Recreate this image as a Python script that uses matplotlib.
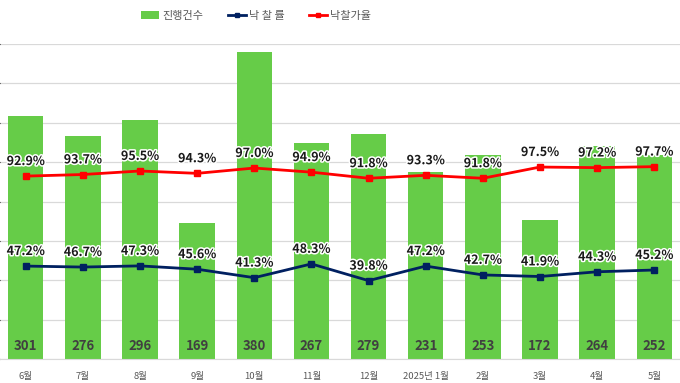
import matplotlib
matplotlib.use("Agg")
import matplotlib.pyplot as plt
import matplotlib.patheffects as pe
from matplotlib.lines import Line2D
from matplotlib.patches import Patch
import numpy as np

plt.rcParams['font.family'] = ['Noto Sans CJK KR', 'DejaVu Sans']

months = ['6월', '7월', '8월', '9월', '10월', '11월', '12월', '2025년 1월', '2월', '3월', '4월', '5월']
counts = [301, 276, 296, 169, 380, 267, 279, 231, 253, 172, 264, 252]
win_rate = [47.2, 46.7, 47.3, 45.6, 41.3, 48.3, 39.8, 47.2, 42.7, 41.9, 44.3, 45.2]
price_rate = [92.9, 93.7, 95.5, 94.3, 97.0, 94.9, 91.8, 93.3, 91.8, 97.5, 97.2, 97.7]

bar_color = '#66CC48'
navy = '#002060'
red = '#FF0000'

fig = plt.figure(figsize=(6.8, 3.83), dpi=100)
ax = fig.add_axes([0.0, 24/383, 1.0, 315/383])
x = np.arange(len(months))

ax.bar(x, counts, width=0.62, color=bar_color, zorder=2)
ax.set_xlim(-0.45, len(months) - 0.55)
ax.set_ylim(0, 390)
ax.set_yticks(np.linspace(0, 390, 9))
ax.yaxis.grid(True, color='#D9D9D9', linewidth=0.9, zorder=0)
ax.set_axisbelow(True)
ax.tick_params(axis='y', left=False, labelleft=False)
for s in ['top', 'left', 'right']:
    ax.spines[s].set_visible(False)
ax.spines['bottom'].set_color('#D9D9D9')
ax.set_xticks(x)
ax.set_xticklabels(months, fontsize=6.8, color='#595959')
ax.tick_params(axis='x', length=0, pad=9)

for xi, c in zip(x, counts):
    ax.text(xi, 0.041, str(c), transform=ax.get_xaxis_transform(),
            ha='center', va='center', fontsize=9.5, fontweight='bold', color='#404040', zorder=5)

ax2 = ax.twinx()
ax2.set_ylim(0, 160)
ax2.axis('off')
ax2.set_xlim(ax.get_xlim())

ax2.plot(x, price_rate, color=red, linewidth=2, marker='s', markersize=4, zorder=4)
ax2.plot(x, win_rate, color=navy, linewidth=2, marker='s', markersize=4, zorder=4)

glow = [pe.withStroke(linewidth=2.2, foreground='white')]
for xi, v in zip(x, price_rate):
    ax2.annotate(f'{v:.1f}%', (xi, v), xytext=(0, 10.5), textcoords='offset points',
                 ha='center', va='center', fontsize=9, fontweight='bold', color='#1A1A1A',
                 path_effects=glow, zorder=6)
for xi, v in zip(x, win_rate):
    ax2.annotate(f'{v:.1f}%', (xi, v), xytext=(0, 10.5), textcoords='offset points',
                 ha='center', va='center', fontsize=9, fontweight='bold', color='#1A1A1A',
                 path_effects=glow, zorder=6)

handles = [Patch(facecolor=bar_color, edgecolor='none'),
           Line2D([], [], color=navy, linewidth=2, marker='s', markersize=3.5),
           Line2D([], [], color=red, linewidth=2, marker='s', markersize=3.5)]
labels = ['진행건수', '낙 찰 률', '낙찰가율']
fig.legend(handles, labels, loc='center', bbox_to_anchor=(0.377, 1 - 16/383), ncol=3,
           frameon=False, fontsize=8, labelcolor='#595959', handlelength=1.6,
           handleheight=0.8, handletextpad=0.3, columnspacing=2.2)

fig.savefig('out.png', dpi=100)
